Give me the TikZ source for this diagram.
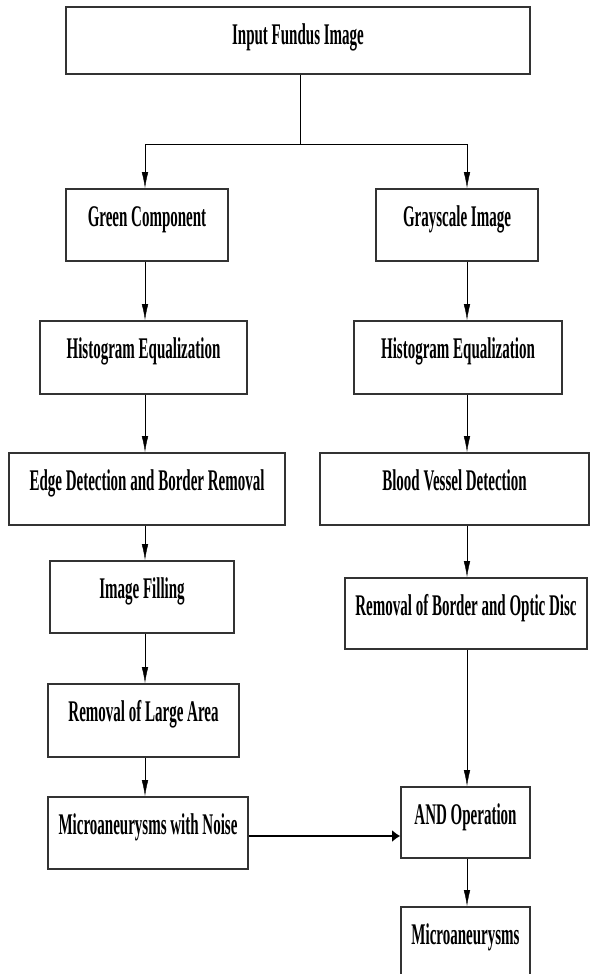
\documentclass[tikz,border=0pt]{standalone}
\usepackage{fontspec}
\setmainfont{Liberation Serif}
\usepackage{graphicx}
\usepackage{tikz}
\usetikzlibrary{positioning,arrows.meta}
\newcommand{\tallText}[1]{\scalebox{1}[2]{#1}}
\tikzstyle{stage}=[draw=black!80,line width=1.6pt,inner sep=0pt,anchor=north,text height=38pt,text depth=34pt,font=\fontsize{15}{18}\selectfont\bfseries]
\tikzstyle{varrow}=[-{Latex[length=16pt,width=6.5pt]},thin,black]
\tikzstyle{harrow}=[-{Latex[length=8pt,width=12pt]},line width=1.6pt,black]

\begin{document}
\begin{tikzpicture}[x=1pt,y=-1pt]
\clip (0,0) rectangle (591,974);
% left column
\node (input) [stage,minimum width=464pt,text depth=29pt] at (298,6) {\tallText{Input Fundus Image}};
\node (green) [stage,minimum width=162pt] at (147,188) {\tallText{Green Component}};
\node (histL) [stage,minimum width=207pt,text depth=35pt] at (143.5,320) {\tallText{Histogram Equalization}};
\node (edge) [stage,minimum width=276pt] at (147,452) {\tallText{Edge Detection and Border Removal}};
\node (fill) [stage,minimum width=184pt] at (142,560) {\tallText{Image Filling}};
\node (large) [stage,minimum width=191pt,text depth=35pt] at (143.5,683) {\tallText{Removal of Large Area}};
\node (noise) [stage,minimum width=200pt] at (148,796) {\tallText{Microaneurysms with Noise}};
% right column
\node (gray) [stage,minimum width=162pt] at (457,188) {\tallText{Grayscale Image}};
\node (histR) [stage,minimum width=208pt,text depth=35pt] at (458,320) {\tallText{Histogram Equalization}};
\node (vessel) [stage,minimum width=269pt] at (454.5,452) {\tallText{Blood Vessel Detection}};
\node (border) [stage,minimum width=242pt,text depth=33pt] at (466,577) {\tallText{Removal of Border and Optic Disc}};
\node (andop) [stage,minimum width=129pt,text depth=33pt] at (465.5,786) {\tallText{AND Operation}};
\node (micro) [stage,minimum width=129pt] at (465.5,906) {\tallText{Microaneurysms}};

\coordinate (split) at (300,144);
\coordinate (lcol) at (145,0);
\coordinate (rcol) at (467,0);
\coordinate (join) at (0,836);

\draw[thin] (input.south -| split) -- (split);
\draw[varrow] (split) -| (green.north -| lcol);
\draw[varrow] (split) -| (gray.north -| rcol);

\draw[varrow] (green.south -| lcol) -- (histL.north -| lcol);
\draw[varrow] (histL.south -| lcol) -- (edge.north -| lcol);
\draw[varrow] (edge.south -| lcol) -- (fill.north -| lcol);
\draw[varrow] (fill.south -| lcol) -- (large.north -| lcol);
\draw[varrow] (large.south -| lcol) -- (noise.north -| lcol);

\draw[varrow] (gray.south -| rcol) -- (histR.north -| rcol);
\draw[varrow] (histR.south -| rcol) -- (vessel.north -| rcol);
\draw[varrow] (vessel.south -| rcol) -- (border.north -| rcol);
\draw[varrow] (border.south -| rcol) -- (andop.north -| rcol);
\draw[varrow] (andop.south -| rcol) -- (micro.north -| rcol);

\draw[harrow] (noise.east |- join) -- (andop.west |- join);
\end{tikzpicture}
\end{document}
